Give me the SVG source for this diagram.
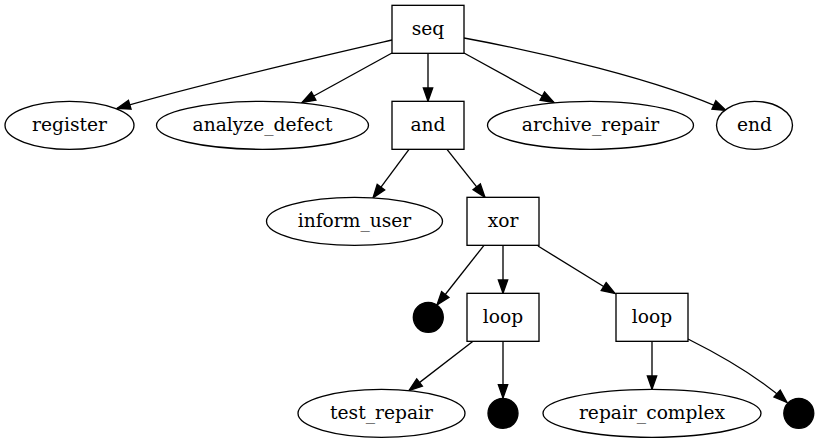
<svg xmlns="http://www.w3.org/2000/svg" width="819" height="443" viewBox="0 0 819 443">
<style>
.n{fill:#fff;stroke:#000;stroke-width:1.33}
.p{fill:#000;stroke:#000;stroke-width:1.33}
.t{font-family:"DejaVu Serif",serif;font-size:18.67px;text-anchor:middle;fill:#000}
.e{fill:none;stroke:#000;stroke-width:1.33;marker-end:url(#ah)}
</style>
<defs>
<marker id="ah" markerWidth="16" markerHeight="12" refX="13.33" refY="4.67" orient="auto" markerUnits="userSpaceOnUse" overflow="visible">
<path d="M0,0 L13.33,4.67 L0,9.33 z" fill="#000" stroke="#000" stroke-width="1.33"/>
</marker>
</defs>
<rect width="819" height="443" fill="#fff"/>
<g id="edges">
<path class="e" d="M392,40 C340,52 200,84 117,108.5"/>
<path class="e" d="M392,53 L302,102.5"/>
<path class="e" d="M428,53.3 L428,101.3"/>
<path class="e" d="M464,53 L554,102.5"/>
<path class="e" d="M464,38 C540,52 660,80 726,110.5"/>
<path class="e" d="M409,149.3 L373,197.8"/>
<path class="e" d="M447,149.3 L485,197.3"/>
<path class="e" d="M484,245.3 L437,305"/>
<path class="e" d="M503,245.3 L503,293.3"/>
<path class="e" d="M538,246 L615,293.5"/>
<path class="e" d="M473,341.3 L409,390.6"/>
<path class="e" d="M503,341.3 L503,398"/>
<path class="e" d="M652,341.3 L652,389.3"/>
<path class="e" d="M688,339 C722,356 762,380 787,402.5"/>
</g>
<g id="seq"><rect class="n" x="392" y="5.33" width="72" height="48"/><text class="t" x="428" y="34.9">seq</text></g>
<g id="register"><ellipse class="n" cx="69.5" cy="125.3" rx="64.5" ry="24"/><text class="t" x="69.5" y="130.9">register</text></g>
<g id="analyze_defect"><ellipse class="n" cx="262.5" cy="125.3" rx="106" ry="24"/><text class="t" x="262.5" y="130.9">analyze_defect</text></g>
<g id="and"><rect class="n" x="392" y="101.33" width="72" height="48"/><text class="t" x="428" y="130.9">and</text></g>
<g id="archive_repair"><ellipse class="n" cx="590.5" cy="125.3" rx="103" ry="24"/><text class="t" x="590.5" y="130.9">archive_repair</text></g>
<g id="end"><ellipse class="n" cx="754.5" cy="125.3" rx="38" ry="24"/><text class="t" x="754.5" y="130.9">end</text></g>
<g id="inform_user"><ellipse class="n" cx="354.5" cy="221.3" rx="88" ry="24"/><text class="t" x="354.5" y="226.9">inform_user</text></g>
<g id="xor"><rect class="n" x="467" y="197.33" width="72" height="48"/><text class="t" x="503" y="226.9">xor</text></g>
<g id="tau1"><circle class="p" cx="428.3" cy="317.3" r="15"/></g>
<g id="loop1"><rect class="n" x="467" y="293.33" width="72" height="48"/><text class="t" x="503" y="322.9">loop</text></g>
<g id="loop2"><rect class="n" x="616" y="293.33" width="72" height="48"/><text class="t" x="652" y="322.9">loop</text></g>
<g id="test_repair"><ellipse class="n" cx="381.5" cy="413.3" rx="83.5" ry="24"/><text class="t" x="381.5" y="418.9">test_repair</text></g>
<g id="tau2"><circle class="p" cx="503" cy="413.3" r="15"/></g>
<g id="repair_complex"><ellipse class="n" cx="652" cy="413.3" rx="109" ry="24"/><text class="t" x="652" y="418.9">repair_complex</text></g>
<g id="tau3"><circle class="p" cx="798.8" cy="413.3" r="15"/></g>
</svg>
